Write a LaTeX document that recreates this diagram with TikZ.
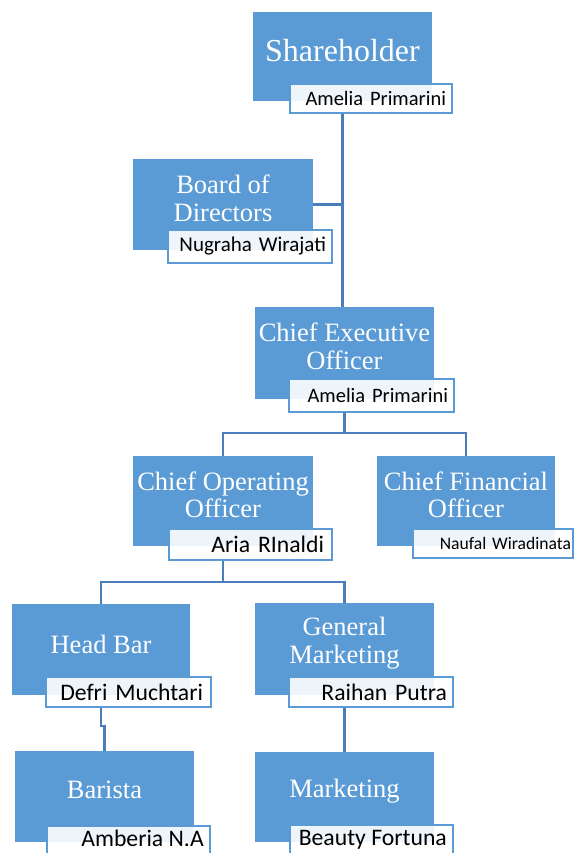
\documentclass[tikz,border=0pt]{standalone}
\usepackage{fontspec}
\setmainfont{Liberation Serif}
\newfontfamily\namefont{Carlito}
\definecolor{boxblue}{HTML}{5B9BD5}
\definecolor{linkblue}{HTML}{4A7EBB}
\tikzset{
  rolebox/.style={fill=boxblue, draw=none, inner sep=0pt},
  roletext/.style={text=white, align=center, inner sep=0pt, font=\fontsize{26.5}{27.5}\selectfont},
  namebox/.style={draw=boxblue, line width=2pt, fill=white, fill opacity=0.9, text opacity=1, inner sep=0pt, align=right, text=black},
  nametext/.style={inner sep=0pt, text=black, anchor=base east},
  nm/.style={font=\namefont\fontsize{#1}{#1}\selectfont},
  link/.style={draw=linkblue, line width=2.2pt},
}
\begin{document}
\begin{tikzpicture}[x=1pt,y=-1pt]
\path[use as bounding box, clip] (0,0) rectangle (574,853);
\fill[white] (0,0) rectangle (574,853);

% Shareholder
\node[rolebox, minimum width=179pt, minimum height=89pt] (sh) at (342.5,56.5) {};
\node[roletext, font=\fontsize{32}{33}\selectfont] (sht) at (342.5,50.5) {Shareholder};
\node[namebox, minimum width=162pt, minimum height=29pt, text width=150pt, nm=20.5] (shn) at (371,98.5) {Amelia Primarini};

% Board of Directors
\node[rolebox, minimum width=180pt, minimum height=91pt] (bod) at (223,204.5) {};
\node[roletext] (bodt) at (223,198.5) {Board of\\Directors};
\node[namebox, minimum width=164pt, minimum height=33pt, text width=152pt, nm=21] (bodn) at (250,246.5) {Nugraha Wirajati};

% CEO
\node[rolebox, minimum width=179pt, minimum height=92pt] (ceo) at (344.5,353) {};
\node[roletext] (ceot) at (344.5,346.5) {Chief Executive\\Officer};
\node[namebox, minimum width=165pt, minimum height=33pt, text width=153pt, nm=20.5] (ceon) at (371.5,395.5) {Amelia Primarini};

% COO
\node[rolebox, minimum width=180pt, minimum height=90pt] (coo) at (223,501) {};
\node[roletext] (coot) at (223,495) {Chief Operating\\Officer};
\node[namebox, minimum width=163pt, minimum height=31pt, text width=147pt, nm=23.7] (coon) at (250.5,544.5) {Aria RInaldi};

% CFO
\node[rolebox, minimum width=178pt, minimum height=90pt] (cfo) at (466,501) {};
\node[roletext] (cfot) at (466,495) {Chief Financial\\Officer};
\node[namebox, minimum width=160pt, minimum height=29pt, text width=156pt, nm=17.6] (cfon) at (493,543.5) {Naufal Wiradinata};

% Head Bar
\node[rolebox, minimum width=178pt, minimum height=91pt] (hb) at (101,649.5) {};
\node[roletext] (hbt) at (101,644) {Head Bar};
\node[namebox, minimum width=165pt, minimum height=30pt, text width=149pt, nm=23.7] (hbn) at (128.5,692) {Defri Muchtari};

% General Marketing
\node[rolebox, minimum width=179pt, minimum height=92pt] (gm) at (344.5,649) {};
\node[roletext] (gmt) at (344.5,643) {General\\Marketing};
\node[namebox, minimum width=164pt, minimum height=30pt, text width=152pt, nm=23.7] (gmn) at (371,692) {Raihan Putra};

% Barista
\node[rolebox, minimum width=179pt, minimum height=91pt] (ba) at (104.5,796.5) {};
\node[roletext] (bat) at (104.5,790) {Barista};
\node[namebox, minimum width=163pt, minimum height=30pt] (ban) at (128.5,841) {};
\node[nametext, nm=23.7] (bant) at (204,846) {Amberia N.A};

% Marketing
\node[rolebox, minimum width=179pt, minimum height=90pt] (mk) at (344.5,797) {};
\node[roletext] (mkt) at (344.5,791) {Marketing};
\node[namebox, minimum width=163pt, minimum height=31pt] (mkn) at (371.5,840.5) {};
\node[nametext, nm=23.7] (mknt) at (447,845) {Beauty Fortuna};

% connectors
\coordinate (j1) at (344.5,433);
\coordinate (j2) at (223,582);
\coordinate (j3) at (101,726);
\draw[link] (shn.south -| sh) -- (sh |- ceo.north);
\draw[link] (bod.east) -- (bod.east -| sh);
\draw[link] (ceon.south -| ceo) -- (j1);
\draw[link] (coo.north) -- (coo.north |- j1) -- (cfo.north |- j1) -- (cfo.north);
\draw[link] (coon.south -| coo) -- (j2);
\draw[link] (hb.north) -- (hb.north |- j2) -- (gm.north |- j2) -- (gm.north);
\draw[link] (hbn.south -| hb) -- (j3) -| (ba.north);
\draw[link] (gmn.south -| gm) -- (mk.north);
\end{tikzpicture}
\end{document}
